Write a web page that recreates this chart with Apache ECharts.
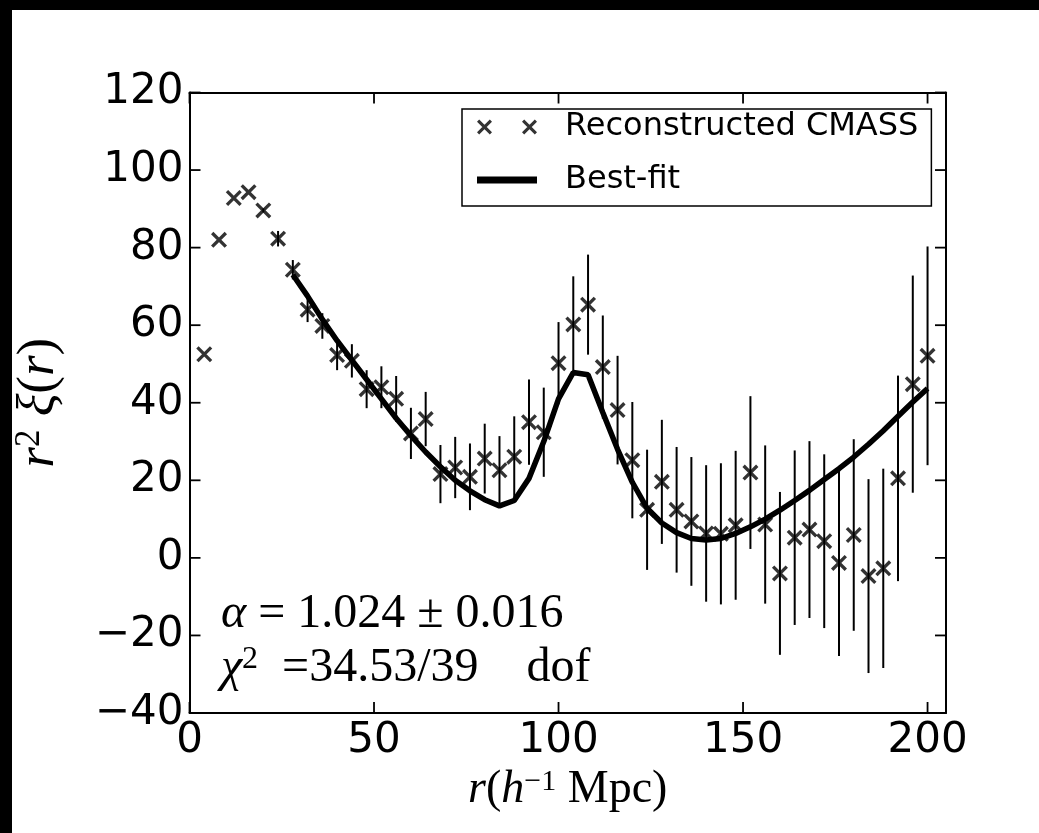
<!DOCTYPE html>
<html>
<head>
<meta charset="utf-8">
<script src="https://cdn.jsdelivr.net/npm/echarts@6/dist/echarts.min.js"></script>
<style>
  html, body { margin: 0; padding: 0; background: #000; }
  #main { position: absolute; left: 12px; top: 10px; width: 1027px; height: 823px; background: #fff; }
</style>
</head>
<body>
<div id="main"></div>
<script>
// separation r (h^-1 Mpc)
var rValues = [4, 8, 12, 16, 20, 24, 28, 32, 36, 40, 44, 48, 52, 56, 60, 64, 68, 72, 76, 80,
  84, 88, 92, 96, 100, 104, 108, 112, 116, 120, 124, 128, 132, 136, 140, 144, 148, 152, 156, 160,
  164, 168, 172, 176, 180, 184, 188, 192, 196, 200];
// r^2 xi(r), reconstructed CMASS
var xiValues = [52.5, 82, 92.8, 94.3, 89.6, 82.3, 74.3, 64, 59.8, 52.3, 50.8, 43.5, 44, 41, 32.1, 35.8, 21.6, 23.3, 20.9, 25.6,
  22.6, 26.1, 35, 32.4, 50.2, 60.2, 65.3, 49.2, 38.1, 25.2, 12.4, 19.6, 12.4, 9.4, 6.3, 6.2, 8.4, 22, 8.6, -4,
  5.2, 7.3, 4.3, -1.3, 5.9, -4.7, -2.7, 20.5, 44.8, 52.1];
// 1-sigma errors
var xiErrors = [0, 0, 0, 0, 0.5, 2, 2.5, 3.2, 3.3, 3.9, 4.3, 4.9, 5.4, 5.9, 6.6, 7, 7.5, 7.9, 8.6, 9,
  8.8, 10.4, 11, 11.5, 10.6, 12.4, 12.9, 13.3, 14, 15, 15.5, 16, 16.2, 16.6, 17.6, 18.2, 19.2, 19.7, 20.4, 21,
  22.5, 22.8, 22.4, 24, 24.7, 25, 25.7, 26.5, 28, 28.2];
// best-fit model
var fitR = [28, 32, 36, 40, 44, 48, 52, 56, 60, 64, 68, 72, 76, 80, 84, 88, 92, 96, 100, 104,
  108, 112, 116, 120, 124, 128, 132, 136, 140, 144, 148, 152, 156, 160, 164, 168, 172, 176, 180, 184,
  188, 192, 196, 200];
var fitValues = [73, 67.5, 61.5, 56, 51, 46, 41, 36, 31.5, 27.3, 23.5, 20, 17.3, 15, 13.4, 14.8, 20.5, 30, 41, 47.8,
  47.2, 37.5, 28, 19.5, 12.8, 9, 6.5, 5, 4.6, 5, 6.3, 8, 10, 12.3, 14.8, 17.4, 20.2, 23, 26, 29.3,
  32.8, 36.5, 40.2, 43.7];
var xTicks = [0, 50, 100, 150, 200];
var yTicks = [-40, -20, 0, 20, 40, 60, 80, 100, 120];
var xMin = 0, xMax = 205, yMin = -40, yMax = 120;

var chart = echarts.init(document.getElementById('main'));

var pointData = rValues.map(function (r, i) { return [r, xiValues[i]]; });
var errData = rValues.map(function (r, i) { return [r, xiValues[i] - xiErrors[i], xiValues[i] + xiErrors[i]]; });
var fitData = fitR.map(function (r, i) { return [r, fitValues[i]]; });

// filled "x" marker (two thick diagonals)
var crossPath = 'path://M0,2.2L2.2,0L15,12.8L12.8,15ZM12.8,0L15,2.2L2.2,15L0,12.8Z';
var twoCross = 'path://M0,2.2L2.2,0L15,12.8L12.8,15ZM12.8,0L15,2.2L2.2,15L0,12.8Z' +
  'M45,2.2L47.2,0L60,12.8L57.8,15ZM57.8,0L60,2.2L47.2,15L45,12.8Z';
var fitIcon = 'path://M0,0H50V6H0Z';

var sans = 'DejaVu Sans';
var serif = 'Liberation Serif';
var TICK = 11;
function minus(v) { return String(v).replace('-', '\u2212'); }

function axisLine() { return { show: true, onZero: false, lineStyle: { color: '#000', width: 2 } }; }
// built-in black ticks did not show up, so ticks are drawn by custom series below
var noTick = { show: false };

function tickLine(x1, y1, x2, y2) {
  return { type: 'line', shape: { x1: x1, y1: y1, x2: x2, y2: y2 }, style: { stroke: '#000', lineWidth: 1.8 } };
}

chart.setOption({
  animation: false,
  backgroundColor: '#fff',
  grid: { left: 177.5, top: 82.5, right: 93, bottom: 120, containLabel: false, outerBoundsMode: 'none' },
  legend: {
    orient: 'vertical',
    left: 450, top: 99,
    padding: [0, 13, 8, 15],
    itemGap: 17,
    itemWidth: 60, itemHeight: 15,
    borderColor: '#000', borderWidth: 1.5, borderRadius: 0,
    textStyle: { fontFamily: sans, fontSize: 32, color: '#000', lineHeight: 36, padding: [0, 0, 0, 23] },
    data: [
      { name: 'Reconstructed CMASS', icon: twoCross },
      { name: 'Best-fit', icon: fitIcon, itemStyle: { color: '#000' } }
    ]
  },
  xAxis: [{
    type: 'value', min: xMin, max: xMax, interval: 50,
    name: '{i|r}({i|h}{sup|\u22121} Mpc)',
    nameLocation: 'middle', nameGap: 47,
    nameTextStyle: {
      fontFamily: serif, fontSize: 46, color: '#000',
      rich: {
        i: { fontFamily: serif, fontStyle: 'italic', fontSize: 46 },
        sup: { fontFamily: serif, fontSize: 30, verticalAlign: 'top' }
      }
    },
    axisLine: axisLine(), axisTick: noTick, splitLine: { show: false },
    axisLabel: {
      fontFamily: sans, fontSize: 42, color: '#000', margin: 7,
      formatter: function (v) { return xTicks.indexOf(v) >= 0 ? minus(v) : ''; }
    }
  }, {
    type: 'value', min: xMin, max: xMax, interval: 50, position: 'top',
    axisLine: axisLine(), axisTick: noTick, splitLine: { show: false }, axisLabel: { show: false }
  }],
  yAxis: [{
    type: 'value', min: yMin, max: yMax, interval: 20,
    name: '{i|r}{sup|2} {i|\u03be}({i|r})',
    nameLocation: 'middle', nameGap: 124, nameRotate: 90,
    nameTextStyle: {
      fontFamily: serif, fontSize: 53, color: '#000',
      rich: {
        i: { fontFamily: serif, fontStyle: 'italic', fontSize: 53 },
        sup: { fontFamily: serif, fontSize: 35, verticalAlign: 'top' }
      }
    },
    axisLine: axisLine(), axisTick: noTick, splitLine: { show: false },
    axisLabel: { fontFamily: sans, fontSize: 42, color: '#000', margin: 6, formatter: minus }
  }, {
    type: 'value', min: yMin, max: yMax, interval: 20, position: 'right',
    axisLine: axisLine(), axisTick: noTick, splitLine: { show: false }, axisLabel: { show: false }
  }],
  graphic: [{
    type: 'text', left: 209, top: 580,
    style: {
      text: '{i|\u03b1} = 1.024 \u00b1 0.016',
      fontFamily: serif, fontSize: 48, fill: '#000',
      rich: { i: { fontFamily: serif, fontStyle: 'italic', fontSize: 48 } }
    }
  }, {
    type: 'text', left: 209, top: 634,
    style: {
      text: '{i|\u03c7}{sup|2}  =34.53/39    dof',
      fontFamily: serif, fontSize: 48, fill: '#000',
      rich: {
        i: { fontFamily: serif, fontStyle: 'italic', fontSize: 48 },
        sup: { fontFamily: serif, fontSize: 32, verticalAlign: 'top' }
      }
    }
  }],
  series: [{
    // x ticks, bottom and top, pointing inwards
    name: 'xticks',
    type: 'custom',
    silent: true,
    clip: false,
    data: xTicks.map(function (v) { return [v, yMin, yMax]; }),
    encode: { x: 0, y: [1, 2] },
    renderItem: function (params, api) {
      var b = api.coord([api.value(0), api.value(1)]);
      var t = api.coord([api.value(0), api.value(2)]);
      return { type: 'group', children: [
        tickLine(b[0], b[1], b[0], b[1] - TICK),
        tickLine(t[0], t[1], t[0], t[1] + TICK)
      ] };
    },
    z: 5
  }, {
    // y ticks, left and right, pointing inwards
    name: 'yticks',
    type: 'custom',
    silent: true,
    clip: false,
    data: yTicks.map(function (v) { return [xMin, xMax, v]; }),
    encode: { x: [0, 1], y: 2 },
    renderItem: function (params, api) {
      var l = api.coord([api.value(0), api.value(2)]);
      var r = api.coord([api.value(1), api.value(2)]);
      return { type: 'group', children: [
        tickLine(l[0], l[1], l[0] + TICK, l[1]),
        tickLine(r[0], r[1], r[0] - TICK, r[1])
      ] };
    },
    z: 5
  }, {
    name: 'Error bars',
    type: 'custom',
    data: errData,
    encode: { x: 0, y: [1, 2] },
    renderItem: function (params, api) {
      var lo = api.value(1), hi = api.value(2);
      if (hi - lo <= 0) return null;
      var p1 = api.coord([api.value(0), lo]);
      var p2 = api.coord([api.value(0), hi]);
      return {
        type: 'line',
        shape: { x1: p1[0], y1: p1[1], x2: p2[0], y2: p2[1] },
        style: { stroke: '#000', lineWidth: 2 }
      };
    },
    z: 2
  }, {
    name: 'Reconstructed CMASS',
    type: 'scatter',
    data: pointData,
    symbol: crossPath,
    symbolSize: 16,
    itemStyle: { color: '#000' },
    z: 3
  }, {
    name: 'Best-fit',
    type: 'line',
    data: fitData,
    showSymbol: false,
    symbol: 'none',
    lineStyle: { color: '#000', width: 5.5 },
    itemStyle: { color: '#000' },
    z: 4
  }]
});
</script>
</body>
</html>
